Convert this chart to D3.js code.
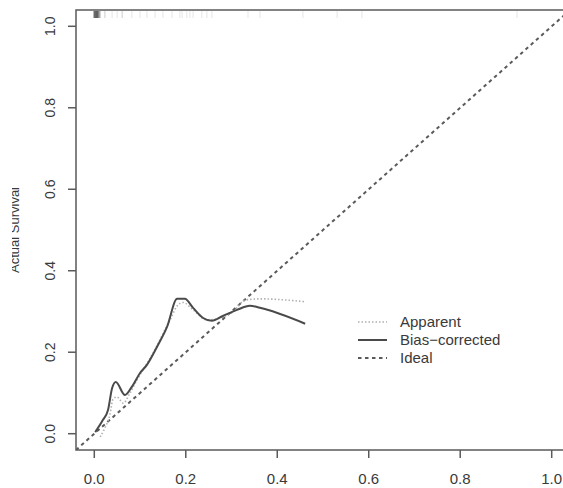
<!DOCTYPE html>
<html lang="en">
<head>
<meta charset="utf-8">
<title>Calibration curve</title>
<script src="https://cdn.jsdelivr.net/npm/d3@7"></script>
<style type="text/css">
  body { margin: 0; background: #fff; overflow: hidden; }
  svg { display: block; }
  text { font-family: "Liberation Sans", Arial, sans-serif; fill: #3a3a3a; }
</style>
</head>
<body>
<script type="text/javascript">

// tick labels
var xTicks = [0, 0.2, 0.4, 0.6, 0.8, 1.0];
var yTicks = [0, 0.2, 0.4, 0.6, 0.8, 1.0];

// Apparent (dotted)
var appX = [0.013, 0.023, 0.034, 0.041, 0.050, 0.063, 0.078, 0.093, 0.128, 0.165, 0.183, 0.194, 0.216, 0.246, 0.275, 0.303, 0.330, 0.362, 0.461];
var appY = [-0.008, 0.014, 0.046, 0.085, 0.090, 0.075, 0.100, 0.131, 0.197, 0.278, 0.316, 0.322, 0.304, 0.279, 0.284, 0.299, 0.328, 0.331, 0.324];

// Bias-corrected (solid)
var bcX = [0.002, 0.019, 0.030, 0.039, 0.047, 0.067, 0.082, 0.100, 0.115, 0.137, 0.159, 0.181, 0.198, 0.216, 0.238, 0.257, 0.281, 0.312, 0.340, 0.362, 0.461];
var bcY = [0.004, 0.034, 0.058, 0.112, 0.127, 0.095, 0.115, 0.149, 0.169, 0.213, 0.262, 0.331, 0.331, 0.309, 0.284, 0.277, 0.289, 0.304, 0.314, 0.309, 0.270];

// Ideal
var idealX = [-0.04, 1.04];
var idealY = [-0.04, 1.04];

// rug of predicted values along the top, with how many fall at each
var rugX = [0.000, 0.003, 0.006, 0.009, 0.012, 0.023, 0.039, 0.050, 0.061, 0.082, 0.100, 0.115, 0.133, 0.150, 0.170, 0.187, 0.192, 0.202, 0.209, 0.216, 0.235, 0.246, 0.257, 0.336, 0.362, 0.456, 0.531, 0.585, 0.924];
var rugN = [10, 12, 12, 9, 5, 2, 1, 1, 2, 1, 1, 1, 1, 1, 1, 1, 1, 1, 1, 1, 1, 1, 1, 1, 1, 1, 1, 1, 1];

var legendLabels = ["Apparent", "Bias\u2212corrected", "Ideal"];

//SVG Width and height
var svgWidth = 563;
var svgHeight = 488;

// plot box
var boxL = 76, boxR = 570, boxT = 10, boxB = 450;

var x = d3.scaleLinear().domain([-0.04, 1.04]).range([boxL, boxR]);
var y = d3.scaleLinear().domain([-0.04, 1.04]).range([boxB, boxT]);

var svg = d3.select("body").append("svg")
    .attr("width", svgWidth)
    .attr("height", svgHeight);

var defs = svg.append("defs");
defs.append("clipPath").attr("id", "plotclip")
  .append("rect")
    .attr("x", boxL).attr("y", boxT)
    .attr("width", boxR - boxL).attr("height", boxB - boxT);

defs.append("clipPath").attr("id", "titleclip")
  .append("rect")
    .attr("x", 12).attr("y", 0)
    .attr("width", 60).attr("height", svgHeight);

// rug
var rugLines = [];
rugX.forEach(function (v, i) {
    for (var k = 0; k < rugN[i]; k++) rugLines.push(v);
});
svg.append("g").selectAll("line")
    .data(rugLines)
  .enter().append("line")
    .attr("x1", function (d) { return x(d); })
    .attr("x2", function (d) { return x(d); })
    .attr("y1", boxT + 1)
    .attr("y2", boxT + 8)
    .attr("stroke", "#000")
    .attr("stroke-opacity", 0.07)
    .attr("stroke-width", 1.5);

var line = d3.line()
    .x(function (d) { return x(d[0]); })
    .y(function (d) { return y(d[1]); });

var plot = svg.append("g").attr("clip-path", "url(#plotclip)");

// ideal
plot.append("path")
    .datum(d3.zip(idealX, idealY))
    .attr("d", line)
    .attr("fill", "none")
    .attr("stroke", "#5a5a5a")
    .attr("stroke-width", 2)
    .attr("stroke-dasharray", "3.5,3.5");

var smooth = d3.line()
    .curve(d3.curveMonotoneX)
    .x(function (d) { return x(d[0]); })
    .y(function (d) { return y(d[1]); });

// apparent
plot.append("path")
    .datum(d3.zip(appX, appY))
    .attr("d", smooth)
    .attr("fill", "none")
    .attr("stroke", "#b0b0b0")
    .attr("stroke-width", 1.6)
    .attr("stroke-dasharray", "1.5,2");

// bias-corrected
plot.append("path")
    .datum(d3.zip(bcX, bcY))
    .attr("d", smooth)
    .attr("fill", "none")
    .attr("stroke", "#4a4a4a")
    .attr("stroke-width", 2);

// frame
svg.append("rect")
    .attr("x", boxL).attr("y", boxT)
    .attr("width", boxR - boxL).attr("height", boxB - boxT)
    .attr("fill", "none")
    .attr("stroke", "#5a5a5a")
    .attr("stroke-width", 1.5);

// x axis
var xAxis = svg.append("g");
xAxis.selectAll("line").data(xTicks).enter().append("line")
    .attr("x1", function (d) { return x(d); })
    .attr("x2", function (d) { return x(d); })
    .attr("y1", boxB).attr("y2", boxB + 8)
    .attr("stroke", "#5a5a5a").attr("stroke-width", 1.5);
xAxis.selectAll("text").data(xTicks).enter().append("text")
    .attr("x", function (d) { return x(d); })
    .attr("y", 484)
    .attr("text-anchor", "middle")
    .style("font-size", "15px")
    .text(function (d) { return d.toFixed(1); });

// y axis
var yAxis = svg.append("g");
yAxis.selectAll("line").data(yTicks).enter().append("line")
    .attr("x1", boxL - 8).attr("x2", boxL)
    .attr("y1", function (d) { return y(d); })
    .attr("y2", function (d) { return y(d); })
    .attr("stroke", "#5a5a5a").attr("stroke-width", 1.5);
yAxis.selectAll("text").data(yTicks).enter().append("text")
    .attr("transform", function (d) { return "translate(55," + y(d) + ") rotate(-90)"; })
    .attr("text-anchor", "middle")
    .style("font-size", "14px")
    .text(function (d) { return d.toFixed(1); });

// y title (cut at the left in the original)
svg.append("g").attr("clip-path", "url(#titleclip)")
  .append("text")
    .attr("transform", "translate(19," + y(0.5) + ") rotate(-90)")
    .attr("text-anchor", "middle")
    .style("font-size", "13px")
    .text("Actual Survival");

// legend
var legStyles = [
    { stroke: "#b0b0b0", width: 1.6, dash: "1.5,2" },
    { stroke: "#4a4a4a", width: 2, dash: null },
    { stroke: "#5a5a5a", width: 2, dash: "3.5,3.5" }
];
var leg = svg.append("g").attr("transform", "translate(358,322)");
legendLabels.forEach(function (lab, i) {
    var row = leg.append("g").attr("transform", "translate(0," + (i * 18) + ")");
    row.append("line")
        .attr("x1", 0).attr("x2", 29).attr("y1", 0).attr("y2", 0)
        .attr("stroke", legStyles[i].stroke)
        .attr("stroke-width", legStyles[i].width)
        .attr("stroke-dasharray", legStyles[i].dash);
    row.append("text")
        .attr("x", 42).attr("y", 5)
        .style("font-size", "15px")
        .text(lab);
});

</script>
</body>
</html>
